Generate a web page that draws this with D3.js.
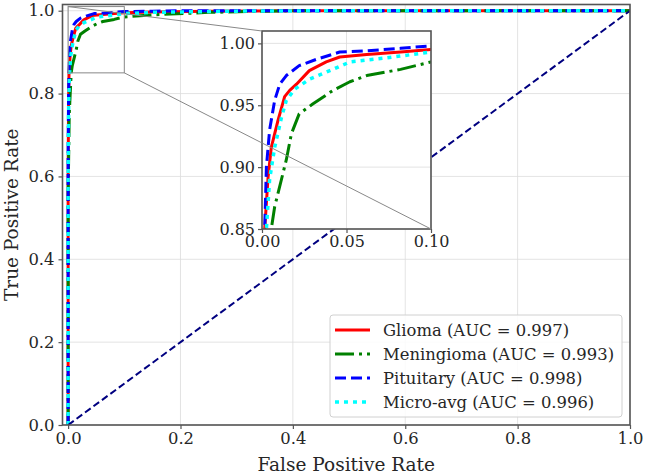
<!DOCTYPE html>
<html><head><meta charset="utf-8">
<script src="https://cdn.jsdelivr.net/npm/d3@7"></script>
<style>body{margin:0;background:#fff}svg{display:block}</style>
</head><body><svg id="c" width="646" height="475"></svg>
<script>
const xTicks = [0, 0.2, 0.4, 0.6, 0.8, 1.0];
const yTicks = [0, 0.2, 0.4, 0.6, 0.8, 1.0];
const insetXTicks = [0, 0.05, 0.10];
const insetYTicks = [0.85, 0.90, 0.95, 1.00];

const gliomaFpr = [0, 0, 0.0008, 0.0016, 0.0036, 0.0055, 0.0095, 0.0134, 0.0164, 0.0204, 0.028, 0.038, 0.046, 0.062, 0.082, 0.1, 0.15, 0.25, 0.4, 1];
const gliomaTpr = [0, 0.6, 0.78, 0.85, 0.892, 0.916, 0.938, 0.957, 0.962, 0.967, 0.978, 0.985, 0.989, 0.991, 0.993, 0.995, 0.997, 0.999, 1, 1];
const meningFpr = [0, 0, 0.002, 0.0055, 0.0075, 0.0115, 0.0144, 0.0174, 0.022, 0.030, 0.042, 0.052, 0.062, 0.082, 0.1, 0.15, 0.25, 0.4, 1];
const meningTpr = [0, 0.55, 0.75, 0.85, 0.868, 0.89, 0.906, 0.927, 0.943, 0.951, 0.962, 0.969, 0.974, 0.979, 0.985, 0.99, 0.996, 1, 1];
const pituFpr = [0, 0, 0.0008, 0.0016, 0.0026, 0.0045, 0.0075, 0.0105, 0.0144, 0.022, 0.032, 0.046, 0.062, 0.082, 0.1, 0.15, 0.2, 1];
const pituTpr = [0, 0.65, 0.8, 0.85, 0.90, 0.93, 0.954, 0.967, 0.974, 0.982, 0.987, 0.993, 0.994, 0.996, 0.998, 0.999, 1, 1];
const microFpr = [0, 0, 0.001, 0.0026, 0.0045, 0.0075, 0.0115, 0.0144, 0.0194, 0.028, 0.042, 0.052, 0.072, 0.1, 0.15, 0.3, 0.5, 1];
const microTpr = [0, 0.6, 0.78, 0.85, 0.89, 0.916, 0.94, 0.954, 0.963, 0.971, 0.979, 0.985, 0.988, 0.993, 0.996, 0.999, 1, 1];
const diagX = [0, 1];
const diagY = [0, 1];

const seriesNames = ["Glioma (AUC = 0.997)", "Meningioma (AUC = 0.993)", "Pituitary (AUC = 0.998)", "Micro-avg (AUC = 0.996)"];

const styles = [
  {color: "#ff0000", width: 3, dash: null, cap: "butt"},
  {color: "#008000", width: 3, dash: "19,5,3,5", cap: "butt"},
  {color: "#0000ff", width: 3, dash: "11,5", cap: "butt"},
  {color: "#00ffff", width: 3.5, dash: "4,5", cap: "butt"}
];
const series = [
  {fpr: gliomaFpr, tpr: gliomaTpr},
  {fpr: meningFpr, tpr: meningTpr},
  {fpr: pituFpr, tpr: pituTpr},
  {fpr: microFpr, tpr: microTpr}
];

const svg = d3.select("#c");
const font = "DejaVu Serif";
const spineColor = "#555";
const gridColor = "#dcdcdc";
const textColor = "#262626";

// main axes
const L = 62.5, R = 630, T = 4.5, B = 425;
const x = d3.scaleLinear().domain([-0.01, 1.0]).range([L, R]);
const y = d3.scaleLinear().domain([0, 1.015]).range([B, T]);

svg.append("defs").append("clipPath").attr("id", "mainClip")
  .append("rect").attr("x", L).attr("y", T).attr("width", R - L).attr("height", B - T);

const gGrid = svg.append("g");
xTicks.forEach(t => gGrid.append("line").attr("x1", x(t)).attr("x2", x(t)).attr("y1", T).attr("y2", B)
  .attr("stroke", gridColor).attr("stroke-width", 0.8));
yTicks.forEach(t => gGrid.append("line").attr("y1", y(t)).attr("y2", y(t)).attr("x1", L).attr("x2", R)
  .attr("stroke", gridColor).attr("stroke-width", 0.8));

const plot = svg.append("g").attr("clip-path", "url(#mainClip)");
const lineGen = (sx, sy) => d3.line().x(d => sx(d[0])).y(d => sy(d[1]));

function drawSeries(g, sx, sy) {
  series.forEach((s, i) => {
    const pts = s.fpr.map((f, k) => [f, s.tpr[k]]);
    const st = styles[i];
    g.append("path").attr("d", lineGen(sx, sy)(pts)).attr("fill", "none")
      .attr("stroke", st.color).attr("stroke-width", st.width)
      .attr("stroke-dasharray", st.dash).attr("stroke-linecap", st.cap).attr("stroke-linejoin", "round");
  });
}
drawSeries(plot, x, y);
plot.append("path").attr("d", lineGen(x, y)(diagX.map((v, i) => [v, diagY[i]])))
  .attr("fill", "none").attr("stroke", "#000080").attr("stroke-width", 2).attr("stroke-dasharray", "7,3.5");

// zoom rectangle
svg.append("rect").attr("x", x(0)).attr("y", y(1.01)).attr("width", x(0.1) - x(0)).attr("height", y(0.85) - y(1.01))
  .attr("fill", "none").attr("stroke", "#888").attr("stroke-width", 1);

// main frame
svg.append("rect").attr("x", L).attr("y", T).attr("width", R - L).attr("height", B - T)
  .attr("fill", "none").attr("stroke", spineColor).attr("stroke-width", 1.6);

// axes
const xAxis = d3.axisBottom(x).tickValues(xTicks).tickFormat(d3.format(".1f")).tickSize(4).tickPadding(3);
const yAxis = d3.axisLeft(y).tickValues(yTicks).tickFormat(d3.format(".1f")).tickSize(4).tickPadding(4);
const gx = svg.append("g").attr("transform", `translate(0,${B})`).call(xAxis);
const gy = svg.append("g").attr("transform", `translate(${L},0)`).call(yAxis);
[gx, gy].forEach(g => {
  g.select(".domain").remove();
  g.selectAll(".tick line").attr("stroke", spineColor).attr("stroke-width", 1.2);
  g.selectAll(".tick text").attr("font-family", font).attr("font-size", 16.4).attr("fill", textColor);
});

svg.append("text").attr("x", (L + R) / 2).attr("y", 471).attr("text-anchor", "middle")
  .attr("font-family", font).attr("font-size", 18.5).attr("fill", textColor).text("False Positive Rate");
svg.append("text").attr("transform", `translate(17.5,${(T + B) / 2}) rotate(-90)`).attr("text-anchor", "middle")
  .attr("font-family", font).attr("font-size", 18.5).attr("fill", textColor).text("True Positive Rate");

// legend
const lg = svg.append("g");
lg.append("rect").attr("x", 330).attr("y", 315).attr("width", 292).attr("height", 102).attr("rx", 3)
  .attr("fill", "#fff").attr("fill-opacity", 0.85).attr("stroke", "#d0d0d0").attr("stroke-width", 1);
seriesNames.forEach((n, i) => {
  const yy = 330 + i * 24;
  const st = styles[i];
  lg.append("line").attr("x1", 335).attr("x2", 370).attr("y1", yy).attr("y2", yy)
    .attr("stroke", st.color).attr("stroke-width", st.width).attr("stroke-dasharray", st.dash);
  lg.append("text").attr("x", 383).attr("y", yy + 5.5).attr("font-family", font).attr("font-size", 16.4)
    .attr("fill", textColor).text(n);
});

// inset
const iL = 262, iR = 431, iT = 31, iB = 229;
const ix = d3.scaleLinear().domain([0, 0.1]).range([iL, iR]);
const iy = d3.scaleLinear().domain([0.85, 1.01]).range([iB, iT]);
svg.select("defs").append("clipPath").attr("id", "insetClip")
  .append("rect").attr("x", iL).attr("y", iT).attr("width", iR - iL).attr("height", iB - iT);
svg.append("rect").attr("x", iL).attr("y", iT).attr("width", iR - iL).attr("height", iB - iT).attr("fill", "#fff");
const ig = svg.append("g");
insetXTicks.forEach(t => ig.append("line").attr("x1", ix(t)).attr("x2", ix(t)).attr("y1", iT).attr("y2", iB)
  .attr("stroke", gridColor).attr("stroke-width", 0.8));
insetYTicks.forEach(t => ig.append("line").attr("y1", iy(t)).attr("y2", iy(t)).attr("x1", iL).attr("x2", iR)
  .attr("stroke", gridColor).attr("stroke-width", 0.8));
const iplot = svg.append("g").attr("clip-path", "url(#insetClip)");
drawSeries(iplot, ix, iy);
svg.append("rect").attr("x", iL).attr("y", iT).attr("width", iR - iL).attr("height", iB - iT)
  .attr("fill", "none").attr("stroke", spineColor).attr("stroke-width", 1.6);
const ixAxis = d3.axisBottom(ix).tickValues(insetXTicks).tickFormat(d3.format(".2f")).tickSize(4).tickPadding(3);
const iyAxis = d3.axisLeft(iy).tickValues(insetYTicks).tickFormat(d3.format(".2f")).tickSize(4).tickPadding(3);
const igx = svg.append("g").attr("transform", `translate(0,${iB})`).call(ixAxis);
const igy = svg.append("g").attr("transform", `translate(${iL},0)`).call(iyAxis);
[igx, igy].forEach(g => {
  g.select(".domain").remove();
  g.selectAll(".tick line").attr("stroke", spineColor).attr("stroke-width", 1.2);
  g.selectAll(".tick text").attr("font-family", font).attr("font-size", 16).attr("fill", textColor);
});

// connectors
svg.append("line").attr("x1", x(0)).attr("y1", y(1.01)).attr("x2", iL).attr("y2", iT)
  .attr("stroke", "#888").attr("stroke-width", 1);
svg.append("line").attr("x1", x(0.1)).attr("y1", y(0.85)).attr("x2", iR).attr("y2", iB)
  .attr("stroke", "#888").attr("stroke-width", 1);
</script></body></html>
